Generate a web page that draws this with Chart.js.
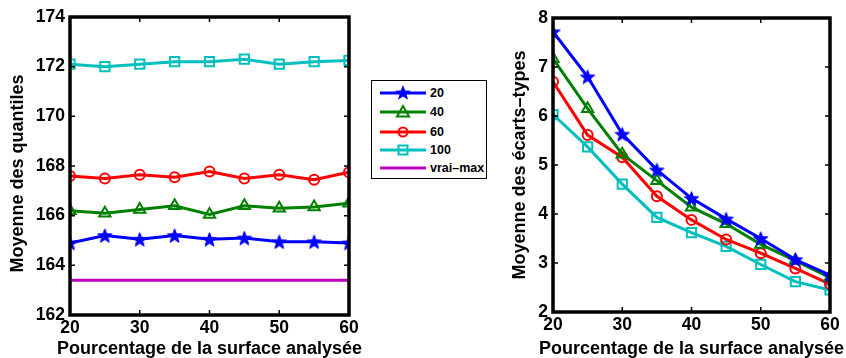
<!DOCTYPE html>
<html><head><meta charset="utf-8">
<script src="https://cdn.jsdelivr.net/npm/chart.js@4"></script>
<style>
html,body{margin:0;padding:0;background:#fff}
body{width:846px;height:358px;overflow:hidden;position:relative;font-family:"Liberation Sans",Arial,sans-serif}
#w1{position:absolute;left:0;top:0;width:380px;height:358px}
#w2{position:absolute;left:490px;top:0;width:356px;height:358px}
#legend{position:absolute;left:371px;top:80px;width:116px;height:99px;border:1px solid #000;box-sizing:border-box;background:#fff}
.row{position:absolute;left:8px;height:18px;display:flex;align-items:center;font-weight:bold;font-size:12.5px;color:#000}
.row svg{margin-right:4px}
</style>
</head><body>
<div id="w1"><canvas id="c1"></canvas></div>
<div id="legend"></div>
<div id="w2"><canvas id="c2"></canvas></div>
<script>
// ---- data ----
const percentages = [20, 25, 30, 35, 40, 45, 50, 55, 60];
const seriesNames = ['20', '40', '60', '100', 'vrai–max'];
const seriesColors = ['#0000ff', '#008000', '#ff0000', '#00bfbf', '#bf00bf'];
// left: Moyenne des quantiles
const quantiles20  = [164.9, 165.2, 165.05, 165.2, 165.05, 165.1, 164.95, 164.95, 164.9];
const quantiles40  = [166.2, 166.1, 166.25, 166.4, 166.05, 166.4, 166.3, 166.35, 166.5];
const quantiles60  = [167.6, 167.5, 167.65, 167.55, 167.78, 167.5, 167.65, 167.45, 167.75];
const quantiles100 = [172.1, 172.0, 172.1, 172.2, 172.2, 172.3, 172.1, 172.2, 172.25];
const vraiMax      = [163.4, 163.4, 163.4, 163.4, 163.4, 163.4, 163.4, 163.4, 163.4];
// right: Moyenne des écarts-types
const sd20  = [7.72, 6.8, 5.63, 4.9, 4.32, 3.9, 3.5, 3.07, 2.75];
const sd40  = [7.17, 6.15, 5.22, 4.68, 4.14, 3.8, 3.38, 3.05, 2.7];
const sd60  = [6.7, 5.61, 5.16, 4.36, 3.88, 3.48, 3.2, 2.89, 2.57];
const sd100 = [6.03, 5.37, 4.61, 3.93, 3.62, 3.34, 2.97, 2.62, 2.45];
// ticks
const xTicks = [20, 30, 40, 50, 60];
const leftYTicks = [162, 164, 166, 168, 170, 172, 174];
const rightYTicks = [2, 3, 4, 5, 6, 7, 8];
const xTitle = 'Pourcentage de la surface analysée';

// ---- marker images ----
function starCanvas(color, r) {
  const s = Math.ceil(r * 2 + 2), c = document.createElement('canvas');
  c.width = s; c.height = s;
  const g = c.getContext('2d'), cx = s / 2, cy = s / 2 + r * 0.1;
  g.beginPath();
  for (let i = 0; i < 10; i++) {
    const rad = i % 2 === 0 ? r : r * 0.42;
    const a = -Math.PI / 2 + i * Math.PI / 5;
    const px = cx + rad * Math.cos(a), py = cy + rad * Math.sin(a);
    i === 0 ? g.moveTo(px, py) : g.lineTo(px, py);
  }
  g.closePath(); g.fillStyle = color; g.fill();
  g.lineWidth = 1; g.strokeStyle = color; g.stroke();
  return c;
}
const star = starCanvas('#0000ff', 7.5);
const markerStyles = [star, 'triangle', 'circle', 'rect', false];
const markerRadius = [8, 6.5, 5, 6.5, 0];

function makeDatasets(arrays) {
  return arrays.map((arr, i) => ({
    label: seriesNames[i],
    data: arr.map((v, k) => ({x: percentages[k], y: v})),
    borderColor: seriesColors[i],
    backgroundColor: 'rgba(0,0,0,0)',
    borderWidth: 3,
    pointStyle: markerStyles[i],
    pointRadius: markerRadius[i],
    pointBorderWidth: 2,
    pointBorderColor: seriesColors[i],
    pointBackgroundColor: 'rgba(0,0,0,0)',
    tension: 0,
    fill: false
  }));
}

const FAM = '"Liberation Sans", Arial, sans-serif';
const tickFont = {family: FAM, size: 17.5, weight: 'bold'};
const titleFont = {family: FAM, size: 18, weight: 'bold', lineHeight: 1};

const framePlugin = {
  id: 'frame',
  afterDatasetsDraw(chart) {
    const {ctx, chartArea: a, scales: {x, y}} = chart;
    ctx.save();
    ctx.strokeStyle = '#000';
    ctx.lineWidth = 1.5;
    const tl = 5;
    x.ticks.forEach(t => {
      const p = x.getPixelForValue(t.value);
      ctx.beginPath(); ctx.moveTo(p, a.bottom); ctx.lineTo(p, a.bottom - tl);
      ctx.moveTo(p, a.top); ctx.lineTo(p, a.top + tl); ctx.stroke();
    });
    y.ticks.forEach(t => {
      const p = y.getPixelForValue(t.value);
      ctx.beginPath(); ctx.moveTo(a.left, p); ctx.lineTo(a.left + tl, p);
      ctx.moveTo(a.right, p); ctx.lineTo(a.right - tl, p); ctx.stroke();
    });
    ctx.lineWidth = 3.5;
    ctx.strokeRect(a.left, a.top, a.right - a.left, a.bottom - a.top);
    // x axis title (drawn without width compression)
    ctx.fillStyle = '#000';
    ctx.font = 'bold 18px ' + FAM;
    ctx.textAlign = 'center';
    ctx.textBaseline = 'middle';
    ctx.fillText(xTitle, (a.left + a.right) / 2, 349);
    ctx.restore();
  }
};

function makeChart(id, datasets, yTicks, yTitle, geom) {
  return new Chart(document.getElementById(id), {
    type: 'line',
    data: {datasets},
    options: {
      responsive: true, maintainAspectRatio: false, animation: false,
      layout: {padding: {top: geom.top, right: geom.right, left: 0, bottom: 0}},
      plugins: {legend: {display: false}, tooltip: {enabled: false}},
      scales: {
        x: {
          type: 'linear', min: 20, max: 60,
          afterBuildTicks: s => { s.ticks = xTicks.map(v => ({value: v})); },
          grid: {display: false, drawTicks: false},
          border: {display: false},
          ticks: {font: tickFont, color: '#000', padding: 3, maxRotation: 0, autoSkip: false},
          title: {display: false},
          afterFit: s => { s.height = geom.xHeight; }
        },
        y: {
          min: yTicks[0], max: yTicks[yTicks.length - 1],
          afterBuildTicks: s => { s.ticks = yTicks.map(v => ({value: v})); },
          grid: {display: false, drawTicks: false},
          border: {display: false},
          ticks: {font: tickFont, color: '#000', padding: 5, autoSkip: false},
          title: {display: true, text: yTitle, font: titleFont, color: '#000', padding: {top: geom.yTitlePad, bottom: 0}},
          afterFit: s => { s.width = geom.yWidth; }
        }
      }
    },
    plugins: [framePlugin]
  });
}

makeChart('c1', makeDatasets([quantiles20, quantiles40, quantiles60, quantiles100, vraiMax]), leftYTicks,
  'Moyenne des quantiles   ', {top: 17, right: 31, xHeight: 43, yWidth: 70, yTitlePad: 9.5});
makeChart('c2', makeDatasets([sd20, sd40, sd60, sd100]), rightYTicks,
  'Moyenne des écarts–types', {top: 18, right: 16, xHeight: 46, yWidth: 63, yTitlePad: 21.5});

// ---- legend (HTML) ----
const lg = document.getElementById('legend');
const rowTops = [3, 22, 42, 60, 78];
seriesNames.forEach((name, i) => {
  const c = seriesColors[i];
  let m = '';
  if (i === 0) m = '<polygon points="23,1 25.2,6.5 31,6.7 26.4,10.2 28.1,15.8 23,12.6 17.9,15.8 19.6,10.2 15,6.7 20.8,6.5" fill="' + c + '"/>';
  if (i === 1) m = '<polygon points="23,3 29,13.5 17,13.5" fill="none" stroke="' + c + '" stroke-width="2"/>';
  if (i === 2) m = '<circle cx="23" cy="9" r="4.5" fill="none" stroke="' + c + '" stroke-width="2"/>';
  if (i === 3) m = '<rect x="18.5" y="4.5" width="9" height="9" fill="none" stroke="' + c + '" stroke-width="2"/>';
  lg.insertAdjacentHTML('beforeend',
    '<div class="row" style="top:' + rowTops[i] + 'px"><svg width="46" height="18"><line x1="0" y1="9" x2="46" y2="9" stroke="' + c + '" stroke-width="3"/>' + m + '</svg>' + name + '</div>');
});
</script>
</body></html>
